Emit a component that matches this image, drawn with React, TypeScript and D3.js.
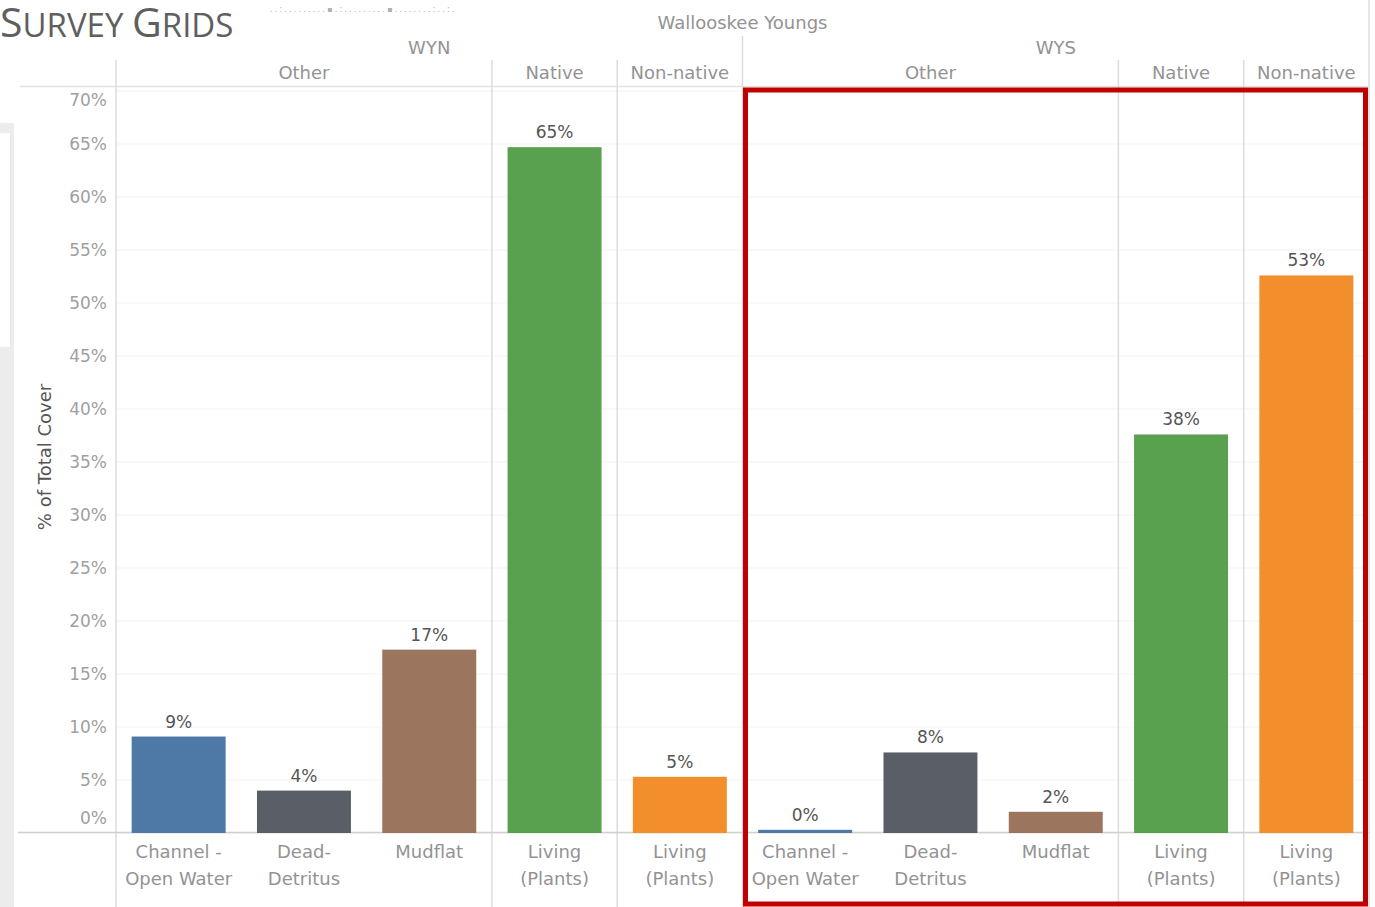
import React from "react";
import * as d3 from "d3";

const sites = ["WYN", "WYS"];
const siteTitle = "Wallooskee Youngs";
const groups = ["Other", "Other", "Other", "Native", "Non-native"];
const categoryLines = [
  ["Channel -", "Open Water"],
  ["Dead-", "Detritus"],
  ["Mudflat"],
  ["Living", "(Plants)"],
  ["Living", "(Plants)"],
];
const categoryColors = ["#4e79a7", "#5a5f67", "#9c755f", "#59a14f", "#f28e2b"];
const wynValues = [9.1, 4.0, 17.3, 64.7, 5.3];
const wysValues = [0.3, 7.6, 2.0, 37.6, 52.6];
const yTicks = [0, 5, 10, 15, 20, 25, 30, 35, 40, 45, 50, 55, 60, 65, 70];
const topSmudge = "..:.........\u25aa.:.........\u25aa........:..:.";

const W = 1375;
const H = 907;
const FONT = "'DejaVu Sans', sans-serif";

export default function App() {
  const valuesBySite = [wynValues, wysValues];
  const cols = sites.flatMap((s, si) =>
    valuesBySite[si].map((v, ci) => ({ key: `${s}-${ci}`, site: s, si, ci, value: v }))
  );
  const plotLeft = 116;
  const plotRight = 1369;
  const x = d3
    .scaleBand<string>()
    .domain(cols.map((c) => c.key))
    .range([plotLeft, plotRight])
    .paddingInner(0.25)
    .paddingOuter(0.125);
  const step = x.step();
  const y = d3.scaleLinear().domain([0, 70]).range([833, 91]);

  const groupSpans: { label: string; x0: number; x1: number }[] = [];
  sites.forEach((s, si) => {
    let start = 0;
    for (let i = 1; i <= groups.length; i++) {
      if (i === groups.length || groups[i] !== groups[start]) {
        const x0 = plotLeft + (si * groups.length + start) * step;
        const x1 = plotLeft + (si * groups.length + i) * step;
        groupSpans.push({ label: groups[start], x0, x1 });
        start = i;
      }
    }
  });
  const siteSpans = sites.map((s, si) => ({
    label: s,
    x0: plotLeft + si * groups.length * step,
    x1: plotLeft + (si + 1) * groups.length * step,
  }));

  const sepColor = "#dcdcdc";
  const textGray = "#939393";

  return (
    <svg width={W} height={H} style={{ position: "absolute", left: 0, top: 0, background: "#fff" }}>
      <rect x={0} y={0} width={W} height={H} fill="#fff" />
      {/* left dashboard strip */}
      <rect x={0} y={123} width={14} height={H - 123} fill="#ececec" />
      <rect x={0} y={133} width={10} height={214} fill="#fff" />
      <rect x={10} y={133} width={1} height={214} fill="#e4e8e2" />

      {/* faint smudge text at top */}
      <text x={270} y={12} fontFamily={FONT} fontSize={8} fill="#b0b0b0" letterSpacing={2.2}>
        {topSmudge}
      </text>

      {/* title */}
      <text x={0} y={37} fontFamily="'Open Sans', sans-serif" fill="#5f5f5f">
        <tspan fontSize={41}>S</tspan>
        <tspan fontSize={33}>URVEY </tspan>
        <tspan fontSize={41}>G</tspan>
        <tspan fontSize={33}>RIDS</tspan>
      </text>

      {/* gridlines */}
      {yTicks.map((t) => (
        <line key={t} x1={plotLeft} x2={plotRight} y1={y(t)} y2={y(t)} stroke="#f3f3f3" strokeWidth={1} />
      ))}

      {/* header top line */}
      <line x1={20} x2={plotRight} y1={86.5} y2={86.5} stroke="#e2e2e2" strokeWidth={1.5} />

      {/* header texts */}
      <text x={(plotLeft + plotRight) / 2} y={29} textAnchor="middle" fontFamily={FONT} fontSize={18} fill={textGray}>
        {siteTitle}
      </text>
      {siteSpans.map((s) => (
        <text key={s.label} x={(s.x0 + s.x1) / 2} y={54} textAnchor="middle" fontFamily={FONT} fontSize={18} fill={textGray}>
          {s.label}
        </text>
      ))}
      {groupSpans.map((g, i) => (
        <text key={i} x={(g.x0 + g.x1) / 2} y={79} textAnchor="middle" fontFamily={FONT} fontSize={18} fill={textGray}>
          {g.label}
        </text>
      ))}

      {/* vertical separators */}
      <line x1={plotLeft} x2={plotLeft} y1={60} y2={H} stroke={sepColor} strokeWidth={1.5} />
      {siteSpans.map((s, i) => (
        <line key={"s" + i} x1={s.x1} x2={s.x1} y1={i === siteSpans.length - 1 ? 0 : 36} y2={H} stroke={sepColor} strokeWidth={1.5} />
      ))}
      {groupSpans
        .filter((g) => !siteSpans.some((s) => Math.abs(s.x1 - g.x1) < 1))
        .map((g, i) => (
          <line key={"g" + i} x1={g.x1} x2={g.x1} y1={60} y2={H} stroke={sepColor} strokeWidth={1.5} />
        ))}

      {/* zero line */}
      <line x1={18} x2={plotRight} y1={y(0) - 0.5} y2={y(0) - 0.5} stroke="#cfcfcf" strokeWidth={1.5} />

      {/* y tick labels */}
      {yTicks.map((t) => (
        <text
          key={t}
          x={107}
          y={Math.min(818, Math.max(100, y(t)))}
          dy="0.35em"
          textAnchor="end"
          fontFamily={FONT}
          fontSize={17}
          fill="#a0a0a0"
        >
          {t}%
        </text>
      ))}
      <text
        transform={`translate(51,457) rotate(-90)`}
        textAnchor="middle"
        fontFamily={FONT}
        fontSize={18}
        fill="#555"
      >
        % of Total Cover
      </text>

      {/* bars */}
      {cols.map((c) => (
        <g key={c.key}>
          <rect
            x={x(c.key)}
            y={y(c.value)}
            width={x.bandwidth()}
            height={y(0) - y(c.value)}
            fill={categoryColors[c.ci]}
          />
          <text
            x={(x(c.key) as number) + x.bandwidth() / 2}
            y={y(c.value) - 9}
            textAnchor="middle"
            fontFamily={FONT}
            fontSize={17}
            fill="#555"
          >
            {Math.round(c.value)}%
          </text>
          {categoryLines[c.ci].map((ln, li) => (
            <text
              key={li}
              x={(x(c.key) as number) + x.bandwidth() / 2}
              y={858 + li * 27}
              textAnchor="middle"
              fontFamily={FONT}
              fontSize={18}
              fill={textGray}
            >
              {ln}
            </text>
          ))}
        </g>
      ))}

      {/* highlight box */}
      <rect x={745.5} y={90} width={620} height={814} fill="none" stroke="#c00000" strokeWidth={5} />
    </svg>
  );
}
